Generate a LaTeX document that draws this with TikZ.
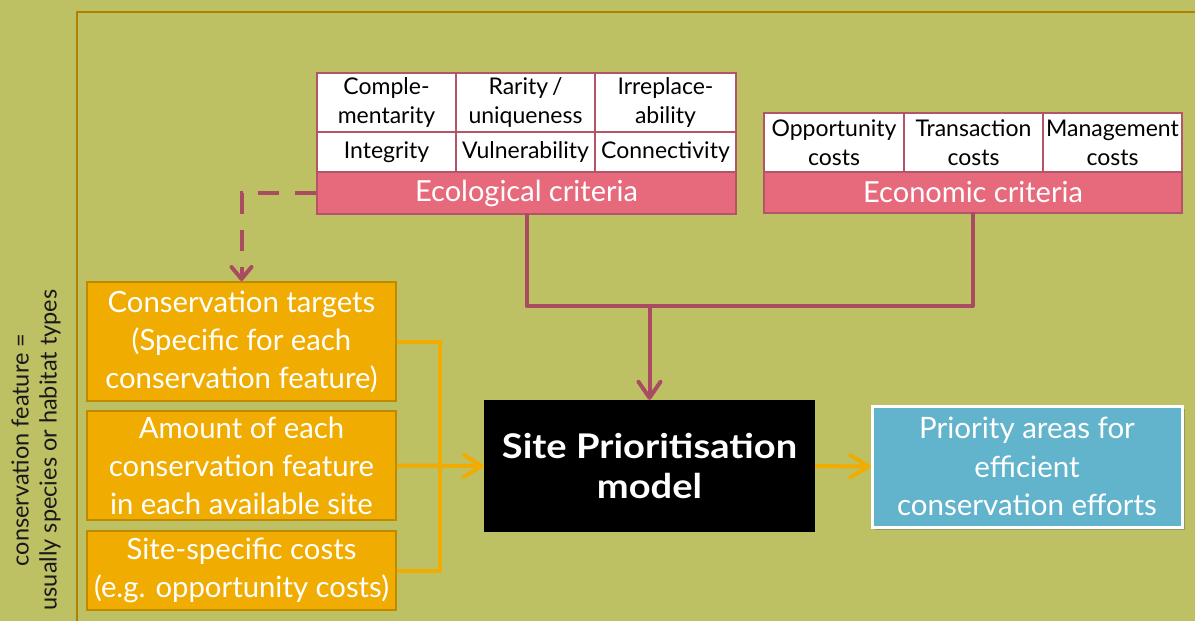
\documentclass[tikz,border=0pt]{standalone}
\usepackage{fontspec}
\setmainfont{Lato}
\newfontfamily\modelfont{Lato}[FakeStretch=1.12]
\usetikzlibrary{arrows.meta,shadows}

\definecolor{bg}{HTML}{BEC064}
\definecolor{framecol}{HTML}{AE8200}
\definecolor{tabline}{HTML}{B35468}
\definecolor{barfill}{HTML}{E66A7C}
\definecolor{maroon}{HTML}{A94C62}
\definecolor{ofill}{HTML}{F0AC00}
\definecolor{oline}{HTML}{C08A00}
\definecolor{bluefill}{HTML}{62B3CC}

\tikzset{
  cell/.style={draw=tabline, fill=white, line width=2pt, inner sep=0pt,
    anchor=north west, align=center, text=black,
    font=\fontsize{23}{29}\selectfont},
  critbar/.style={draw=tabline, fill=barfill, line width=2pt, inner sep=0pt,
    anchor=north west, text=white, font=\fontsize{29}{32}\selectfont},
  inbox/.style={draw=oline, fill=ofill, line width=2pt, inner sep=0pt,
    minimum width=309pt, align=center, text=white,
    font=\fontsize{29.3}{38}\selectfont},
  modelbox/.style={fill=black, inner sep=0pt, minimum width=331pt,
    minimum height=132pt, align=center, text=white,
    font=\modelfont\bfseries\fontsize{34}{40}\selectfont},
  outbox/.style={draw=white, fill=bluefill, line width=3pt, inner sep=0pt,
    minimum width=310pt, minimum height=121pt, align=center, text=white,
    font=\fontsize{29.5}{38.5}\selectfont,
    drop shadow={shadow xshift=3pt, shadow yshift=-3pt, opacity=0.35, fill=black!70}},
  critlink/.style={draw=maroon, line width=4pt},
  critarrow/.style={critlink, -{Straight Barb[round, length=16pt, width=22pt]}},
  dashlink/.style={draw=maroon, line width=4pt, dash pattern=on 21pt off 16pt,
    -{Straight Barb[round, length=12pt, width=20pt]}},
  inlink/.style={draw=ofill, line width=4pt},
  inarrow/.style={inlink, -{Straight Barb[round, length=18pt, width=22pt]}},
  sidenote/.style={rotate=90, align=center, text=black!90,
    font=\fontsize{23.5}{28}\selectfont}
}

\begin{document}
\begin{tikzpicture}[x=1pt, y=-1pt]
  % background and frame
  \fill[bg] (0,0) rectangle (1195,621);
  \useasboundingbox (0,0) rectangle (1195,621);
  \draw[framecol, line width=2.5pt] (77,630) -- (77,12) -- (1205,12);

  % ecological criteria table
  \node[cell, minimum width=139pt, minimum height=59pt] (e11) at (316,72) {Comple-\\mentarity};
  \node[cell, minimum width=139pt, minimum height=59pt] (e12) at (455,72) {Rarity\,/\\uniqueness};
  \node[cell, minimum width=141pt, minimum height=59pt] (e13) at (594,72) {Irreplace-\\ability};
  \node[cell, minimum width=139pt, minimum height=40pt] (e21) at (316,131) {Integrity};
  \node[cell, minimum width=139pt, minimum height=40pt] (e22) at (455,131) {Vulnerability};
  \node[cell, minimum width=141pt, minimum height=40pt] (e23) at (594,131) {Connectivity};
  \node[critbar, minimum width=419pt, minimum height=42pt] (eco) at (316,171) {Ecological criteria};

  % economic criteria table
  \node[cell, minimum width=140pt, minimum height=59pt] (c1) at (763,112) {Opportunity\\costs};
  \node[cell, minimum width=139pt, minimum height=59pt] (c2) at (903,112) {Transaction\\costs};
  \node[cell, minimum width=139pt, minimum height=59pt] (c3) at (1042,112) {Management\\costs};
  \node[critbar, minimum width=418pt, minimum height=41pt] (econ) at (763,171) {Economic criteria};

  % inputs
  \node[inbox, minimum height=119pt] (t1) at (241.5,341.5)
    {Conservation targets\\(Specific for each\\conservation feature)};
  \node[inbox, minimum height=109pt] (t2) at (241.5,465.5)
    {Amount of each\\conservation feature\\in each available site};
  \node[inbox, minimum height=79pt] (t3) at (241.5,570.5)
    {Site-specific costs\\(e.g. opportunity costs)};

  % model and output
  \node[modelbox] (model) at (649.5,466) {Site Prioritisation\\model};
  \node[outbox] (prio) at (1027,466.5) {Priority areas for\\efficient\\conservation efforts};

  % side note
  \node[sidenote] (note) at (36,450) {conservation feature =\\usually species or habitat types};

  % criteria feed the model
  \coordinate (join) at (model.north |- 0,306);
  \draw[critlink, line cap=round, line join=round] (eco.south) |- (join) -| (econ.south);
  \draw[critarrow] (join) -- (model.north);

  % ecological criteria shape the targets
  \draw[dashlink] (eco.west) -| (t1.north);

  % inputs feed the model
  \coordinate (bus) at (440,465);
  \draw[inlink, line join=round] (t1.east) -| (bus) |- (t3.east);
  \draw[inarrow] (t2.east) -- (model.west);

  % model gives the priority areas
  \draw[inarrow] (model.east) -- (prio.west);
\end{tikzpicture}
\end{document}
